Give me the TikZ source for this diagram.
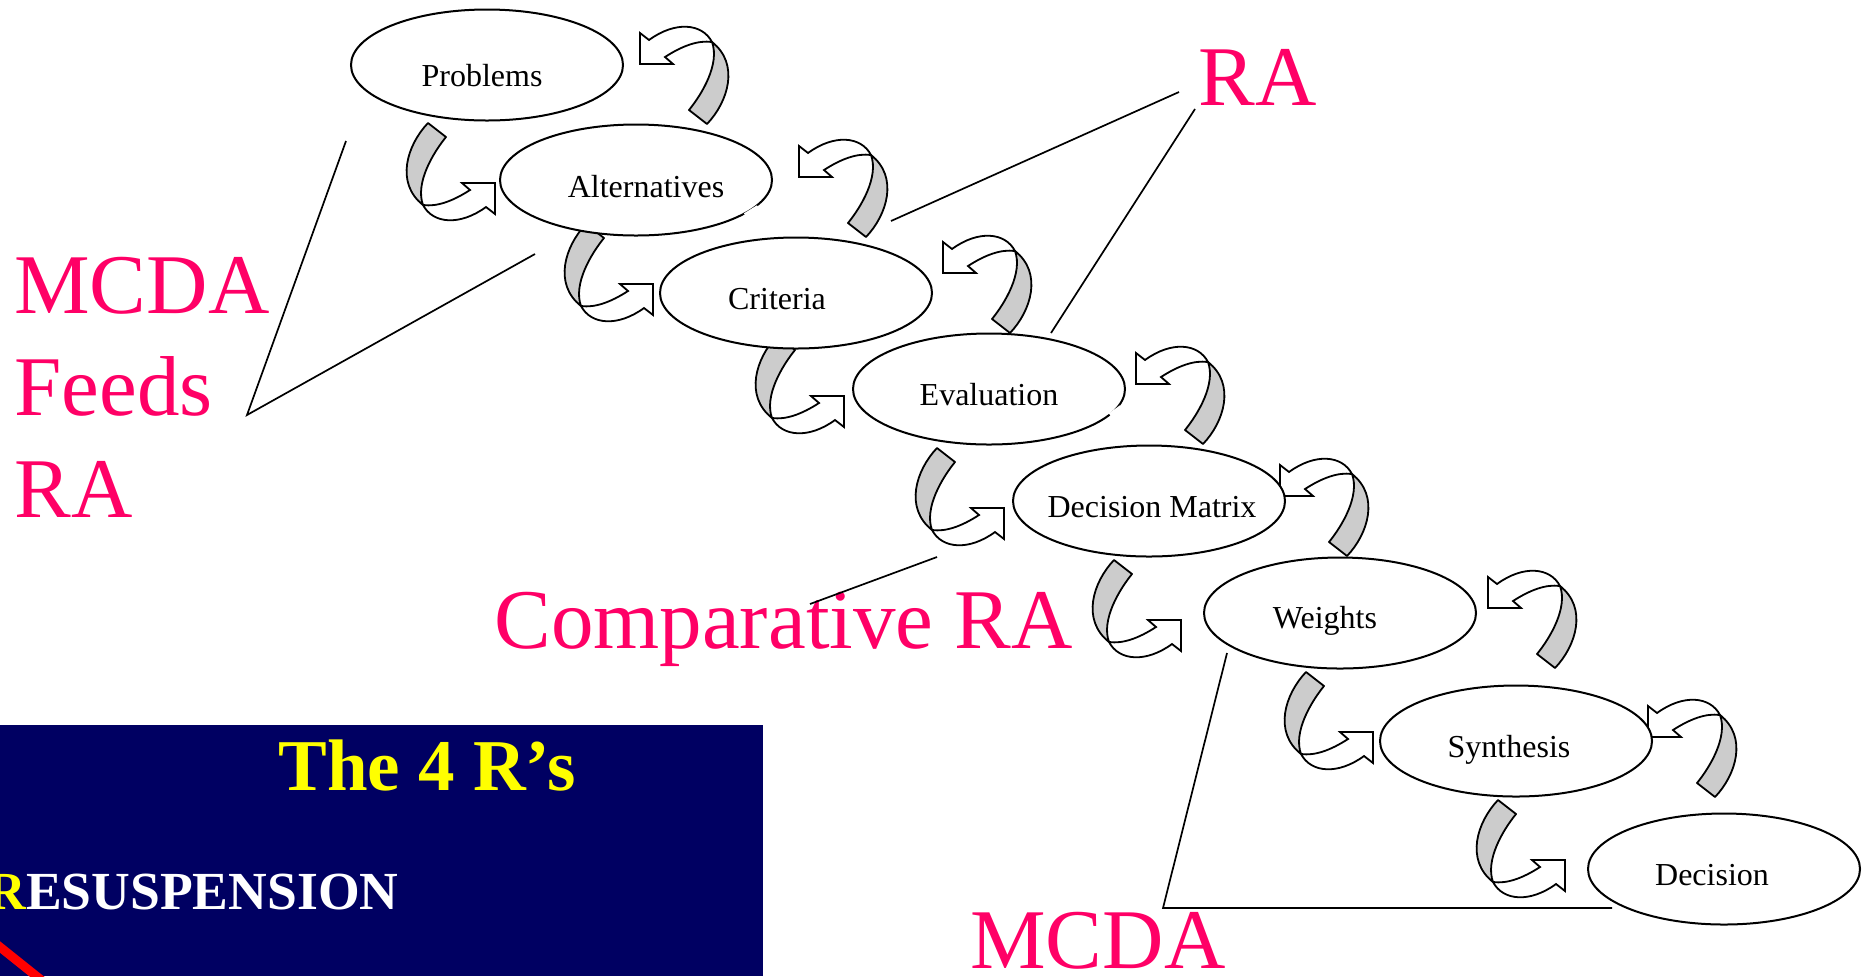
\documentclass[tikz,border=0pt]{standalone}
\usepackage{fontspec}
\setmainfont{Liberation Serif}
\usetikzlibrary{shapes.geometric}

\definecolor{ribbon}{RGB}{204,204,204}
\definecolor{hotpink}{RGB}{255,0,102}
\definecolor{slidenavy}{RGB}{0,0,98}
\definecolor{slideyellow}{RGB}{255,255,0}

\begin{document}
\begin{tikzpicture}[x=0.5pt,y=-0.5pt,
  stage/.style={ellipse,draw=black,line width=1pt,fill=white,
    minimum width=136pt,minimum height=55.5pt,inner sep=0pt},
  stagetext/.style={anchor=base,inner sep=0pt,font=\fontsize{16}{19}\selectfont},
  pinktext/.style={anchor=base west,inner sep=0pt,text=hotpink,
    font=\fontsize{42.5}{51}\selectfont},
  conn/.style={draw=black,line width=0.85pt},
  % curled ribbon arrow: grey front of the band, white back with the head;
  % origin is the top-right corner of the head
  swoop/.pic={
    \filldraw[fill=ribbon,draw=black,line width=0.9pt,line join=round]
      (-67,-60) -- (-49,-46) .. controls (-62,-30) and (-80,0) .. (-72,22)
      .. controls (-100,0) and (-88,-38) .. cycle;
    \filldraw[fill=white,draw=black,line width=0.9pt,line join=miter]
      (-72,22) .. controls (-62,41) and (-35,43) .. (-9,24)
      -- (0,31) -- (0,0) -- (-33,0) -- (-25,7)
      .. controls (-42,18) and (-58,24) .. cycle;
  }]
\useasboundingbox (0,0) rectangle (1872,976);

% ---- slide panel in the lower left corner ----
\fill[slidenavy] (0,725) rectangle (763,976);
\begin{scope}
  \clip (0,725) rectangle (763,976);
  \node[anchor=base west,inner sep=0pt,text=slideyellow,
        font=\fontsize{36.5}{40}\selectfont\bfseries] (title) at (278,790) {The 4 R’s};
  \node[anchor=base west,inner sep=0pt,text=white,
        font=\fontsize{26.8}{30}\selectfont\bfseries] (resusp) at (-13,909)
        {\textcolor{slideyellow}{R}ESUSPENSION};
  \coordinate (redA) at (-10,939);
  \coordinate (redB) at (45,983);
  \draw[red,line width=4.5pt] (redA) -- (redB);
\end{scope}

% ---- ribbon arrows between the stages ----
\foreach \ax/\ay in {495/183,653/284,844/396,1004/508,1181/620,1373/732,1565/860}
  \pic at (\ax,\ay) {swoop};
\foreach \ax/\ay in {640/64,799/177,943/273,1136/384,1280/496,1488/608,1648/737}
  \pic[rotate=180] at (\ax,\ay) {swoop};

% ---- stages ----
\node[stage] (problems) at (487,65) {};
\node[stage] (alternatives) at (636,180) {};
\node[stage] (criteria) at (796,293) {};
\node[stage] (evaluation) at (989,389) {};
\node[stage] (matrix) at (1149,501) {};
\node[stage] (weights) at (1340,613) {};
\node[stage] (synthesis) at (1516,741) {};
\node[stage] (decision) at (1724,869) {};

\node[stagetext] (problemsT) at (482,86) {Problems};
\node[stagetext] (alternativesT) at (646,197) {Alternatives};
\node[stagetext] (criteriaT) at (777,309) {Criteria};
\node[stagetext] (evaluationT) at (989,405) {Evaluation};
\node[stagetext] (matrixT) at (1152,517) {Decision Matrix};
\node[stagetext] (weightsT) at (1325,628) {Weights};
\node[stagetext] (synthesisT) at (1509,757) {Synthesis};
\node[stagetext] (decisionT) at (1712,885) {Decision};

% small breaks in the outlines of Alternatives and Evaluation
\draw[white,line width=2pt] (745,215) -- (758,207);
\draw[white,line width=2pt] (1110,415) -- (1121,407);

% ---- pink annotations ----
\node[pinktext] (feedsA) at (14,313) {MCDA};
\node[pinktext] (feedsB) at (14,415) {Feeds};
\node[pinktext] (feedsC) at (14,517) {RA};
\node[pinktext] (ra) at (1198,105) {RA};
\node[pinktext] (comparative) at (494,648) {Comparative RA};
\node[pinktext] (mcda) at (970,968) {MCDA};

% ---- bracket lines ----
\coordinate (fv) at (247,415);
\coordinate (f1) at (346,141);
\coordinate (f2) at (535,254);
\draw[conn] (f1) -- (fv) -- (f2);

\coordinate (r1a) at (1179,92);
\coordinate (r1b) at (891,221);
\coordinate (r2a) at (1195,109);
\coordinate (r2b) at (1051,333);
\draw[conn] (r1a) -- (r1b);
\draw[conn] (r2a) -- (r2b);

\coordinate (c1) at (937,557);
\coordinate (c2) at (810,604);
\draw[conn] (c1) -- (c2);

\coordinate (m1) at (1227,653);
\coordinate (m2) at (1163,908);
\coordinate (m3) at (1612,908);
\draw[conn] (m1) -- (m2) -- (m3);
\end{tikzpicture}
\end{document}
